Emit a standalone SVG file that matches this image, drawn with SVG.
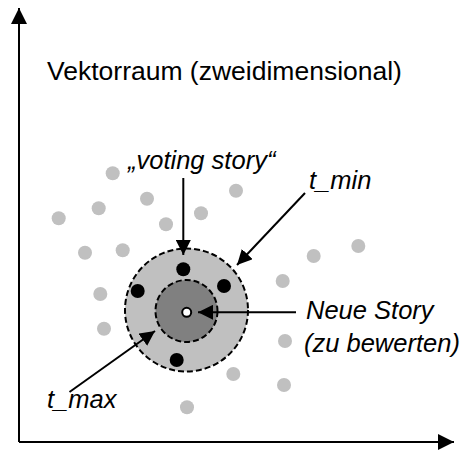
<svg xmlns="http://www.w3.org/2000/svg" width="467" height="450" viewBox="0 0 467 450">
  <style>
    .lbl { font-family: "Liberation Sans", Arial, sans-serif; font-size: 25.5px; fill: #000; }
    .title { font-size: 26.5px; }
    .it { font-style: italic; }
    .axis { stroke: #000; stroke-width: 2; fill: none; }
    .conn { stroke: #000; stroke-width: 2; fill: none; }
    .pt { fill: #c0c0c0; }
    .vote { fill: #000; }
    .ring { stroke: #000; stroke-width: 2; stroke-dasharray: 6 3; }
  </style>
  <defs>
    <marker id="head" viewBox="0 0 15 15" refX="15" refY="7.5" markerWidth="15" markerHeight="15" markerUnits="userSpaceOnUse" orient="auto">
      <path d="M0,0 L15,7.5 L0,15 Z" fill="#000"/>
    </marker>
    <marker id="axhead" viewBox="0 0 16 16" refX="16" refY="8" markerWidth="16" markerHeight="16" markerUnits="userSpaceOnUse" orient="auto">
      <path d="M0,0 L16,8 L0,16 Z" fill="#000"/>
    </marker>
  </defs>

  <!-- coordinate axes -->
  <g id="axes">
    <line class="axis" x1="19" y1="442" x2="19" y2="8" marker-end="url(#axhead)"/>
    <line class="axis" x1="19" y1="442" x2="454" y2="442" marker-end="url(#axhead)"/>
  </g>

  <text id="title" class="lbl title" x="47" y="80">Vektorraum (zweidimensional)</text>

  <!-- other stories in the vector space -->
  <g id="stories">
    <circle class="pt" cx="58.7" cy="218.3" r="7"/>
    <circle class="pt" cx="98.7" cy="208.3" r="7"/>
    <circle class="pt" cx="112.7" cy="173.3" r="7"/>
    <circle class="pt" cx="147" cy="198.7" r="7"/>
    <circle class="pt" cx="236" cy="190.7" r="7"/>
    <circle class="pt" cx="201" cy="213.3" r="7"/>
    <circle class="pt" cx="166" cy="224.3" r="7"/>
    <circle class="pt" cx="85" cy="252.7" r="7"/>
    <circle class="pt" cx="122.7" cy="250.3" r="7"/>
    <circle class="pt" cx="358.3" cy="246" r="7"/>
    <circle class="pt" cx="313.7" cy="256" r="7"/>
    <circle class="pt" cx="282.7" cy="281" r="7"/>
    <circle class="pt" cx="100.3" cy="294" r="7"/>
    <circle class="pt" cx="104" cy="328.7" r="7"/>
    <circle class="pt" cx="285" cy="341" r="7"/>
    <circle class="pt" cx="233.3" cy="374" r="7"/>
    <circle class="pt" cx="284" cy="385" r="7"/>
    <circle class="pt" cx="187" cy="407.3" r="7"/>
  </g>

  <!-- thresholds around the new story -->
  <g id="t-min-ring">
    <circle class="ring" cx="186.5" cy="310" r="61.5" fill="#c0c0c0"/>
  </g>
  <g id="t-max-ring">
    <circle class="ring" cx="186.5" cy="311" r="31" fill="#808080"/>
  </g>

  <!-- voting stories -->
  <g id="voting-stories">
    <circle class="vote" cx="183.3" cy="269.3" r="7"/>
    <circle class="vote" cx="224" cy="286" r="7"/>
    <circle class="vote" cx="137.7" cy="291" r="7"/>
    <circle class="vote" cx="176.7" cy="360" r="7"/>
  </g>

  <g id="new-story">
    <circle cx="186.7" cy="312.3" r="4.5" fill="#fff" stroke="#000" stroke-width="2"/>
  </g>

  <!-- pointer arrows -->
  <g id="connectors">
    <line class="conn" x1="183.3" y1="178" x2="183.3" y2="255" marker-end="url(#head)"/>
    <line class="conn" x1="305" y1="193" x2="237" y2="265" marker-end="url(#head)"/>
    <line class="conn" x1="296" y1="312.3" x2="198" y2="312.3" marker-end="url(#head)"/>
    <line class="conn" x1="69.5" y1="392" x2="155" y2="331" marker-end="url(#head)"/>
  </g>

  <g id="labels">
    <text class="lbl it" x="128" y="169">„voting story“</text>
    <text class="lbl it" x="309" y="189">t_min</text>
    <text class="lbl it" x="306" y="319">Neue Story</text>
    <text class="lbl it" x="304" y="352">(zu bewerten)</text>
    <text class="lbl it" x="47" y="408">t_max</text>
  </g>
</svg>
